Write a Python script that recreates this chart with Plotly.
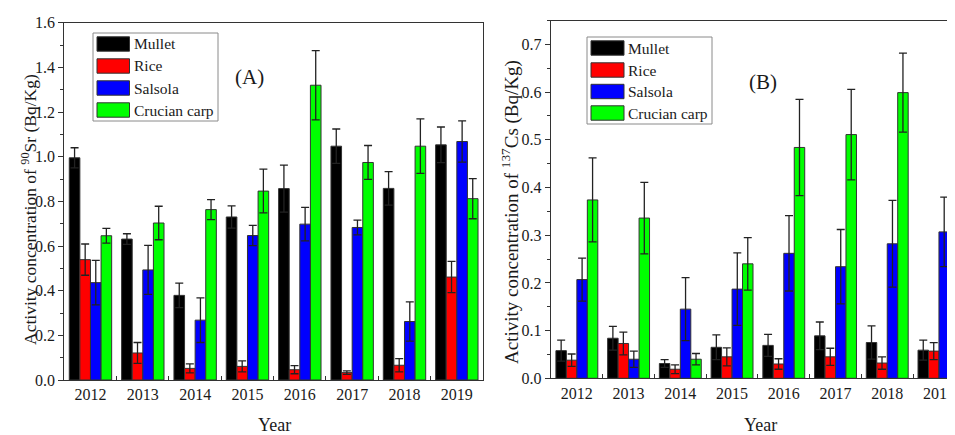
import plotly.graph_objects as go

years = ["2012", "2013", "2014", "2015", "2016", "2017", "2018", "2019"]
series_names = ["Mullet", "Rice", "Salsola", "Crucian carp"]
series_colors = ["#000000", "#ff0000", "#0000ff", "#00ff00"]

# Panel A: 90Sr activity concentration (Bq/Kg)
sr_mullet = [0.995, 0.631, 0.379, 0.730, 0.857, 1.047, 0.858, 1.053]
sr_rice = [0.539, 0.121, 0.052, 0.061, 0.046, 0.033, 0.066, 0.461]
sr_salsola = [0.436, 0.493, 0.268, 0.647, 0.698, 0.683, 0.262, 1.068]
sr_crucian = [0.646, 0.703, 0.763, 0.846, 1.320, 0.974, 1.047, 0.812]
sr_mullet_err = [0.045, 0.024, 0.055, 0.050, 0.105, 0.077, 0.075, 0.080]
sr_rice_err = [0.070, 0.047, 0.020, 0.025, 0.018, 0.008, 0.030, 0.070]
sr_salsola_err = [0.100, 0.110, 0.100, 0.045, 0.075, 0.033, 0.088, 0.092]
sr_crucian_err = [0.033, 0.075, 0.045, 0.098, 0.155, 0.076, 0.122, 0.090]

# Panel B: 137Cs activity concentration (Bq/Kg)
cs_mullet = [0.058, 0.084, 0.031, 0.065, 0.069, 0.089, 0.075, 0.059]
cs_rice = [0.038, 0.073, 0.019, 0.045, 0.030, 0.045, 0.032, 0.057]
cs_salsola = [0.207, 0.040, 0.145, 0.187, 0.262, 0.234, 0.282, 0.307]
cs_crucian = [0.374, 0.336, 0.040, 0.240, 0.484, 0.511, 0.599, 0.569]
cs_mullet_err = [0.022, 0.025, 0.008, 0.026, 0.023, 0.029, 0.035, 0.021]
cs_rice_err = [0.013, 0.024, 0.009, 0.019, 0.011, 0.018, 0.013, 0.018]
cs_salsola_err = [0.045, 0.017, 0.066, 0.076, 0.079, 0.078, 0.091, 0.073]
cs_crucian_err = [0.088, 0.075, 0.012, 0.055, 0.101, 0.095, 0.083, 0.112]

sr_values = [sr_mullet, sr_rice, sr_salsola, sr_crucian]
sr_errors = [sr_mullet_err, sr_rice_err, sr_salsola_err, sr_crucian_err]
cs_values = [cs_mullet, cs_rice, cs_salsola, cs_crucian]
cs_errors = [cs_mullet_err, cs_rice_err, cs_salsola_err, cs_crucian_err]

W, H = 955, 435
OFF = 8  # page body margin offset of the figure div
FONT = "Liberation Serif, Times New Roman, serif"
TXT = "#1a1a1a"
AX = "#333333"


def px_x(x):
    return (x - OFF) / W


def px_y(y):
    return 1 - (y - OFF) / H


fig = go.Figure()

for vals, errs, name, col in zip(sr_values, sr_errors, series_names, series_colors):
    fig.add_trace(go.Bar(
        x=years, y=vals, name=name, xaxis="x", yaxis="y",
        marker=dict(color=col, line=dict(color="#333333", width=1)),
        error_y=dict(type="data", array=errs, color="#222222", thickness=1.3, width=4),
        showlegend=False,
    ))

for vals, errs, name, col in zip(cs_values, cs_errors, series_names, series_colors):
    fig.add_trace(go.Bar(
        x=years, y=vals, name=name, xaxis="x2", yaxis="y2",
        marker=dict(color=col, line=dict(color="#333333", width=1)),
        error_y=dict(type="data", array=errs, color="#222222", thickness=1.3, width=4),
        showlegend=False,
    ))

common_x = dict(
    type="category", showline=True, linecolor=AX, linewidth=1.4, mirror=True,
    ticks="inside", tickson="boundaries", ticklen=4, tickcolor=AX, tickwidth=1.2,
    showgrid=False, zeroline=False, automargin=False,
    tickfont=dict(family=FONT, size=16, color=TXT),
)
common_y = dict(
    showline=True, linecolor=AX, linewidth=1.4,
    ticks="outside", ticklen=5, tickcolor=AX, tickwidth=1.2,
    showgrid=False, zeroline=False, tickformat=".1f", automargin=False,
    tickfont=dict(family=FONT, size=16, color=TXT),
)

fig.update_layout(
    template="none",
    width=W, height=H,
    margin=dict(l=0, r=0, t=0, b=0, pad=0),
    paper_bgcolor="white", plot_bgcolor="white",
    barmode="group", bargap=0.19, bargroupgap=0,
    font=dict(family=FONT, color=TXT),
    xaxis=dict(domain=[px_x(64.3), px_x(483)], anchor="y", range=[-0.5, 7.5], **common_x),
    yaxis=dict(domain=[px_y(380), px_y(22.7)], anchor="x", range=[0, 1.6], dtick=0.2,
               mirror=True,
               minor=dict(ticks="outside", ticklen=3, dtick=0.1, tickcolor=AX),
               **common_y),
    xaxis2=dict(domain=[px_x(551), px_x(955)], anchor="y2", range=[-0.5, 7.31], **common_x),
    yaxis2=dict(domain=[px_y(378.3), px_y(20.6)], anchor="x2", range=[0, 0.75], dtick=0.1,
                mirror=False,
                minor=dict(ticks="outside", ticklen=3, dtick=0.05, tickcolor=AX),
                **common_y),
)

shapes = []
annotations = []


def add_legend(box, sw_x, rows, text_x):
    x0, y0, x1, y1 = box
    shapes.append(dict(type="rect", xref="paper", yref="paper",
                       x0=px_x(x0), x1=px_x(x1), y0=px_y(y1), y1=px_y(y0),
                       line=dict(color="#8a8a8a", width=1), fillcolor="white", layer="above"))
    for ry, name, col in zip(rows, series_names, series_colors):
        shapes.append(dict(type="rect", xref="paper", yref="paper",
                           x0=px_x(sw_x[0]), x1=px_x(sw_x[1]),
                           y0=px_y(ry + 7.2), y1=px_y(ry - 7.2),
                           line=dict(color="#333333", width=1), fillcolor=col, layer="above"))
        annotations.append(dict(xref="paper", yref="paper", x=px_x(text_x), y=px_y(ry),
                                text=name, showarrow=False, xanchor="left", yanchor="middle",
                                font=dict(family=FONT, size=15.5, color=TXT)))


add_legend((93, 33, 218, 121), (97, 129.5), [44, 66, 88, 110], 132)
add_legend((587, 37, 712, 124), (591, 624), [48, 70, 91.5, 113], 626)


def label(x, y, text, size, angle=0):
    annotations.append(dict(xref="paper", yref="paper", x=px_x(x), y=px_y(y), text=text,
                            showarrow=False, xanchor="center", yanchor="middle",
                            textangle=angle, font=dict(family=FONT, size=size, color=TXT)))


label(249, 77, "(A)", 21)
label(763, 82, "(B)", 21)
label(274, 425, "Year", 18)
label(760, 425, "Year", 18)
label(29, 210, "Activity concentration of <sup>90</sup>Sr (Bq/Kg)", 17.5, -90)
label(510, 212, "Activity concentration of <sup>137</sup>Cs (Bq/Kg)", 19, -90)

fig.update_layout(shapes=shapes, annotations=annotations)

fig.write_html("out.html")
